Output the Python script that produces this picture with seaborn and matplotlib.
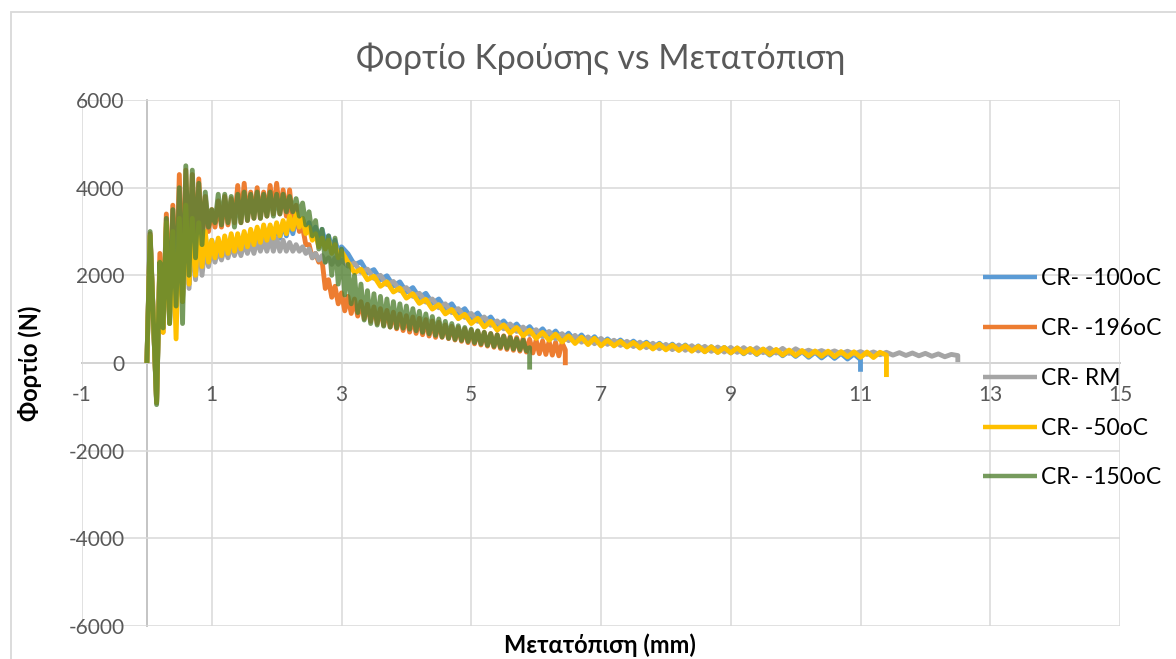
import numpy as np
import pandas as pd
import matplotlib
matplotlib.use("Agg")
import matplotlib.pyplot as plt
import seaborn as sns
from matplotlib.patches import Rectangle

# ---------------------------------------------------------------------------
# Impact load vs displacement, five specimens.
# "dense" values are sampled every 0.05 mm from 0 mm, "tail" values every
# 0.1 mm after the dense part; the last value is the final load drop.
# ---------------------------------------------------------------------------
series_names = ["CR- -100oC", "CR- -196oC", "CR- RM", "CR- -50oC", "CR- -150oC"]

DENSE_STEP = 0.05   # mm
TAIL_STEP = 0.1     # mm

# --- CR- -100oC ---
m100_dense = [0, 2900, 1000, -900, 2300, 800, 3100, 900, 3100, 1100,
              3400, 1400, 3500, 1800, 3300, 2000, 3100, 2200, 2900, 2300,
              2800, 2400, 2800, 2400, 2850, 2450, 2900, 2500, 2900, 2550,
              2950, 2600, 3000, 2650, 3050, 2700, 3100, 2750, 3100, 2800,
              3150, 2850, 3200, 2900, 3250, 2950, 3300, 3050, 3300, 3000,
              3200, 2900, 3100, 2850, 3050, 2750, 2900, 2650, 2800, 2550,
              2650]
m100_tail = [2490, 2240, 2310, 2060, 2130, 1900, 1990, 1760, 1850, 1620,
             1720, 1490, 1590, 1360, 1460, 1240, 1350, 1130, 1240, 1020,
             1140, 930, 1050, 840, 960, 770, 890, 700, 830, 640,
             780, 590, 730, 540, 680, 500, 640, 460, 600, 420,
             550, 415, 525, 390, 500, 370, 475, 345, 450, 320,
             430, 300, 410, 280, 390, 260, 370, 245, 355, 230,
             340, 210, 325, 195, 310, 180, 290, 165, 275, 150,
             260, 130, 245, 115, 230, 105, 220, 90, 205, 80]
m100_drop = -200

# --- CR- -196oC ---
m196_dense = [0, 2950, 1000, -900, 2500, 700, 3400, 1300, 3600, 1500,
              4300, 1500, 4400, 2200, 4300, 2600, 4200, 2800, 3800, 3000,
              3500, 3100, 3700, 3100, 3800, 3150, 3750, 3200, 4050, 3200,
              4100, 3250, 3900, 3300, 4000, 3300, 3900, 3350, 4050, 3400,
              4100, 3400, 3950, 3350, 3950, 3200, 3600, 3000, 3100, 2700,
              2700, 2400, 2500, 2300, 2350, 1700, 1900, 1500, 1750, 1350,
              1600, 1190, 1520, 1130, 1460, 1070, 1400, 1010, 1340, 950,
              1280, 900, 1240, 860, 1200, 820, 1160, 780, 1120, 740,
              1080, 705, 1050, 675, 1020, 645, 990, 615, 960, 585,
              930, 585, 870, 555, 840, 525, 810, 495, 780, 465,
              750, 437, 724, 411, 698, 385, 672, 359, 646, 333,
              620, 310, 600, 290, 580, 270, 560, 250, 540, 230,
              520, 212, 504, 196, 488, 180, 472, 164, 456, 300]
m196_tail = []
m196_drop = -50

# --- CR- RM ---
rm_dense = [0, 2900, 1000, -900, 2200, 800, 3000, 1000, 2900, 1200,
            3100, 1500, 3200, 1700, 3000, 1900, 2900, 2000, 2700, 2200,
            2600, 2300, 2600, 2350, 2650, 2400, 2700, 2450, 2700, 2450,
            2750, 2500, 2750, 2500, 2800, 2550, 2800, 2550, 2850, 2550,
            2850, 2550, 2800, 2550, 2750, 2550, 2700, 2550, 2650, 2500,
            2600, 2400, 2500, 2350, 2450, 2300, 2400, 2250, 2400, 2250,
            2350]
rm_tail = [2210, 2280, 2070, 2140, 1930, 2000, 1790, 1860, 1650, 1720,
           1520, 1590, 1390, 1460, 1260, 1350, 1150, 1240, 1040, 1130,
           950, 1050, 860, 960, 780, 890, 720, 820, 650, 760,
           600, 720, 550, 670, 510, 630, 475, 595, 440, 560,
           425, 520, 400, 495, 375, 475, 350, 450, 325, 425,
           305, 410, 290, 395, 275, 380, 265, 365, 250, 355,
           243, 351, 239, 347, 235, 341, 227, 333, 219, 325,
           236, 292, 228, 284, 220, 276, 208, 268, 204, 260,
           196, 252, 188, 244, 180, 236, 172, 228, 164, 220,
           154, 208, 142, 196, 170]
rm_drop = 20

# --- CR- -50oC ---
m50_dense = [0, 2900, 1000, -900, 2300, 700, 3200, 900, 3000, 550,
             3300, 1400, 3600, 1800, 3300, 2000, 3200, 2200, 3000, 2300,
             2800, 2400, 2850, 2450, 2900, 2500, 2950, 2550, 2950, 2600,
             3000, 2650, 3050, 2700, 3100, 2750, 3150, 2800, 3150, 2850,
             3200, 2900, 3250, 2950, 3350, 3050, 3400, 3100, 3300, 2950,
             3100, 2800, 2950, 2650, 2850, 2600, 2800, 2500, 2700, 2400,
             2550]
m50_tail = [2300, 2060, 2140, 1900, 1980, 1750, 1850, 1620, 1710, 1480,
            1580, 1360, 1450, 1230, 1330, 1120, 1220, 1010, 1110, 900,
            1020, 820, 950, 750, 870, 680, 810, 620, 750, 560,
            700, 520, 660, 480, 620, 445, 590, 420, 565, 390,
            520, 390, 495, 365, 470, 340, 450, 320, 430, 300,
            410, 285, 395, 270, 380, 255, 370, 240, 355, 230,
            345, 220, 330, 205, 320, 195, 310, 180, 295, 170,
            285, 160, 275, 155, 270, 145, 260, 140, 255, 130,
            250, 125, 245, 180]
m50_drop = -320

# --- CR- -150oC ---
m150_dense = [0, 3000, 1000, -950, 2300, 800, 3300, 900, 3500, 1300,
              4000, 900, 4500, 2000, 4400, 2400, 4100, 2700, 3900, 3100,
              3500, 3200, 3850, 3150, 3850, 3200, 3800, 3100, 3850, 3200,
              3900, 3250, 3850, 3300, 3900, 3300, 3850, 3350, 3900, 3350,
              3850, 3400, 3850, 3450, 3800, 3450, 3750, 3350, 3650, 3150,
              3450, 2900, 3250, 2600, 3050, 2300, 2900, 2000, 2850, 1800,
              2600, 1550, 2250, 1350, 2000, 1150, 1800, 980, 1650, 900,
              1580, 865, 1520, 840, 1460, 820, 1400, 805, 1350, 795,
              1300, 770, 1240, 735, 1180, 700, 1120, 665, 1060, 630,
              1005, 595, 950, 565, 900, 540, 850, 515, 810, 490,
              770, 465, 735, 435, 700, 405, 670, 380, 640, 360,
              610, 340, 580, 320, 550, 300, 520, 280, 350]
m150_tail = []
m150_drop = -150

colors = ["#5B9BD5", "#ED7D31", "#A5A5A5", "#FFC000", "#548235"]
alphas = [1.0, 1.0, 1.0, 1.0, 0.8]

x_ticks = [-1, 1, 3, 5, 7, 9, 11, 13, 15]
y_ticks = [-6000, -4000, -2000, 0, 2000, 4000, 6000]

title_text = "Φορτίο Κρούσης vs Μετατόπιση"
x_label = "Μετατόπιση (mm)"
y_label = "Φορτίο (N)"


def build_curve(dense, tail, drop):
    x_dense = np.round(np.arange(len(dense)) * DENSE_STEP, 3)
    x_tail = np.round(x_dense[-1] + np.arange(1, len(tail) + 1) * TAIL_STEP, 3)
    x_all = np.concatenate([x_dense, x_tail])
    x = np.concatenate([x_all, x_all[-1:]])
    y = np.concatenate([dense, tail, [drop]]).astype(float)
    return x, y


raw = {
    "CR- -100oC": (m100_dense, m100_tail, m100_drop),
    "CR- -196oC": (m196_dense, m196_tail, m196_drop),
    "CR- RM": (rm_dense, rm_tail, rm_drop),
    "CR- -50oC": (m50_dense, m50_tail, m50_drop),
    "CR- -150oC": (m150_dense, m150_tail, m150_drop),
}

frames = []
for name in series_names:
    x, y = build_curve(*raw[name])
    frames.append(pd.DataFrame({"disp": x, "load": y, "series": name}))
df = pd.concat(frames, ignore_index=True)

# ---------------------------------------------------------------------------
W, H = 1176, 659
fig = plt.figure(figsize=(W / 100, H / 100), dpi=100)
sns.set_style("white")
plt.rcParams["font.family"] = ["Lato", "DejaVu Sans"]

ax = fig.add_axes([82 / W, 1 - 626 / H, (1120 - 82) / W, (626 - 100) / H])

sns.lineplot(data=df, x="disp", y="load", hue="series", hue_order=series_names,
             palette=dict(zip(series_names, colors)), estimator=None, sort=False,
             units="series", linewidth=3.5, legend=False, ax=ax)

for line, a in zip(ax.lines, alphas):
    line.set_alpha(a)
    line.set_solid_joinstyle("round")
    line.set_solid_capstyle("butt")

ax.set_xlim(-1, 15)
ax.set_ylim(-6000, 6000)
ax.set_xticks(x_ticks)
ax.set_yticks(y_ticks)
ax.set_xticklabels([str(v) for v in x_ticks])
ax.set_yticklabels([str(v) for v in y_ticks])
ax.grid(True, color="#D9D9D9", linewidth=1.1)
ax.set_axisbelow(True)

for s in ["top", "right"]:
    ax.spines[s].set_visible(False)
ax.spines["left"].set_position(("data", 0))
ax.spines["bottom"].set_position(("data", 0))
for s in ["left", "bottom"]:
    ax.spines[s].set_color("#BFBFBF")
    ax.spines[s].set_linewidth(1.3)
    ax.spines[s].set_zorder(0.5)

ax.tick_params(axis="y", length=0, pad=16, labelsize=15, labelcolor="#595959")
ax.tick_params(axis="x", length=0, pad=16, labelsize=15, labelcolor="#595959")
ax.set_xlabel("")
ax.set_ylabel("")

fig.text(601 / W, 1 - 59 / H, title_text, ha="center", va="center",
         fontsize=24.3, color="#595959", fontweight="normal")
fig.text(600 / W, 1 - 645 / H, x_label, ha="center", va="center",
         fontsize=17, fontweight="bold", color="#000000")
fig.text(30 / W, 1 - 363 / H, y_label, ha="center", va="center",
         rotation=90, fontsize=17, fontweight="bold", color="#000000")

leg = ax.legend(ax.lines[:5], series_names, loc="upper left",
                bbox_to_anchor=(983 / W, 1 - 268 / H), bbox_transform=fig.transFigure,
                frameon=False, fontsize=16.5, handlelength=2.35, handletextpad=0.2,
                labelspacing=1.26, borderpad=0, borderaxespad=0)
for t in leg.get_texts():
    t.set_color("#000000")
for h in leg.legend_handles:
    h.set_linewidth(3.2)

fig.patches.append(Rectangle((11 / W, -0.2), 1.5, 1.2 - 12 / H,
                             transform=fig.transFigure, fill=False,
                             edgecolor="#D9D9D9", linewidth=1.3))

fig.savefig("out.png", dpi=100)
